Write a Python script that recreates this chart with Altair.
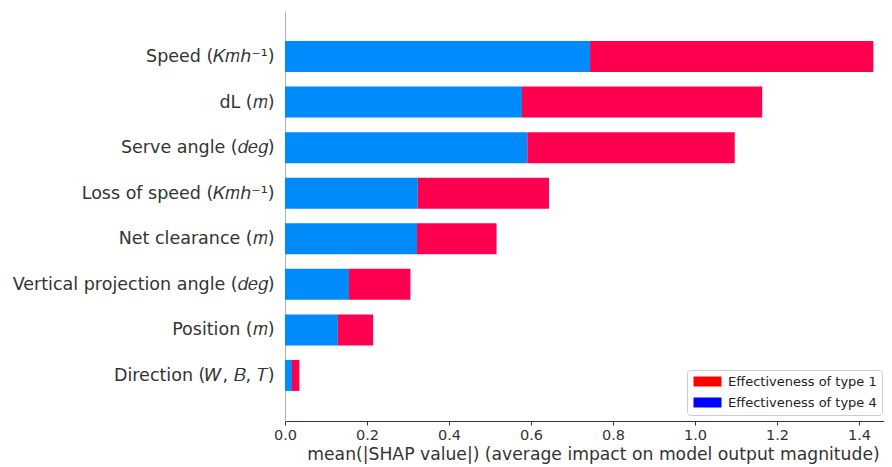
import altair as alt
import pandas as pd

# Features, top to bottom
features = [
    "Speed (𝐾𝑚ℎ⁻¹)",
    "dL (𝑚)",
    "Serve angle (𝑑𝑒𝑔)",
    "Loss of speed (𝐾𝑚ℎ⁻¹)",
    "Net clearance (𝑚)",
    "Vertical projection angle (𝑑𝑒𝑔)",
    "Position (𝑚)",
    "Direction (𝑊, 𝐵, 𝑇)",
]
# mean(|SHAP|) per class
type4 = [0.744, 0.578, 0.591, 0.324, 0.322, 0.156, 0.129, 0.017]  # blue
type1 = [0.691, 0.586, 0.506, 0.320, 0.194, 0.150, 0.086, 0.018]  # red

series_names = ["Effectiveness of type 1", "Effectiveness of type 4"]
bar_colors = ["#ff0051", "#008bfb"]
legend_colors = ["#ff0000", "#0000ff"]
x_ticks = [0.0, 0.2, 0.4, 0.6, 0.8, 1.0, 1.2, 1.4]

n = len(features)
rows = []
for i, f in enumerate(features):
    pos = n - 1 - i
    rows.append({"feature": f, "pos": pos, "series": series_names[1], "lo": 0.0, "hi": type4[i]})
    rows.append({"feature": f, "pos": pos, "series": series_names[0], "lo": type4[i], "hi": type4[i] + type1[i]})
df = pd.DataFrame(rows)

labels_bottom_up = list(reversed(features))
label_expr = "[" + ",".join("'" + s + "'" for s in labels_bottom_up) + "][datum.value]"

FONT = "DejaVu Sans"

x_enc = alt.X(
    "lo:Q",
    scale=alt.Scale(domain=[0, 1.461], nice=False, zero=True),
    axis=alt.Axis(
        values=x_ticks,
        format=".1f",
        grid=False,
        domainColor="#333333",
        tickColor="#333333",
        tickSize=4,
        labelFontSize=14.5,
        labelColor="#333333",
        labelFont=FONT,
        labelPadding=3,
        labelFlush=False,
        title="mean(|SHAP value|) (average impact on model output magnitude)",
        titleFont=FONT,
        titleFontSize=17.2,
        titleFontWeight="normal",
        titleColor="#333333",
        titlePadding=4,
        titleX=308,
    ),
)
y_enc = alt.Y(
    "y0:Q",
    scale=alt.Scale(domain=[-1, 8], nice=False, zero=False),
    axis=alt.Axis(
        values=list(range(n)),
        labelExpr=label_expr,
        labelLimit=0,
        grid=False,
        ticks=False,
        domain=True,
        domainColor="#b0b0b0",
        labelFontSize=17.5,
        labelColor="#333333",
        labelFont=FONT,
        labelPadding=11,
        title=None,
    ),
)

base = alt.Chart(df).transform_calculate(
    y0="datum.pos - 0.34", y1="datum.pos + 0.34", legend_series="datum.series"
)

bars = base.mark_rect().encode(
    x=x_enc,
    x2="hi:Q",
    y=y_enc,
    y2="y1:Q",
    color=alt.Color("series:N", scale=alt.Scale(domain=series_names, range=bar_colors), legend=None),
)

legend_layer = base.mark_rect().encode(
    x=alt.X("lo:Q"),
    x2="lo:Q",
    y=alt.Y("y0:Q"),
    y2="y1:Q",
    fill=alt.Fill(
        "legend_series:N",
        scale=alt.Scale(domain=series_names, range=legend_colors),
        legend=alt.Legend(
            orient="none",
            legendX=402,
            legendY=359,
            title=None,
            symbolType="M-2.8,-1L2.8,-1L2.8,1L-2.8,1Z",
            symbolSize=100,
            symbolOffset=9,
            symbolStrokeWidth=0,
            symbolOpacity=1,
            labelFontSize=13,
            labelFont=FONT,
            labelColor="#222222",
            labelOffset=14,
            labelLimit=0,
            strokeColor="#cccccc",
            fillColor="#ffffff",
            cornerRadius=3,
            padding=5,
            rowPadding=7,
        ),
    ),
)

chart = (
    alt.layer(bars, legend_layer)
    .resolve_legend(fill="independent", color="independent")
    .properties(
        width=599,
        height=410,
        autosize=alt.AutoSizeParams(type="none"),
        padding={"left": 277, "top": 3, "right": 0, "bottom": 46},
    )
    .configure_view(stroke=None)
)

chart.save("out.html", embed_options={"renderer": "svg", "actions": False})
